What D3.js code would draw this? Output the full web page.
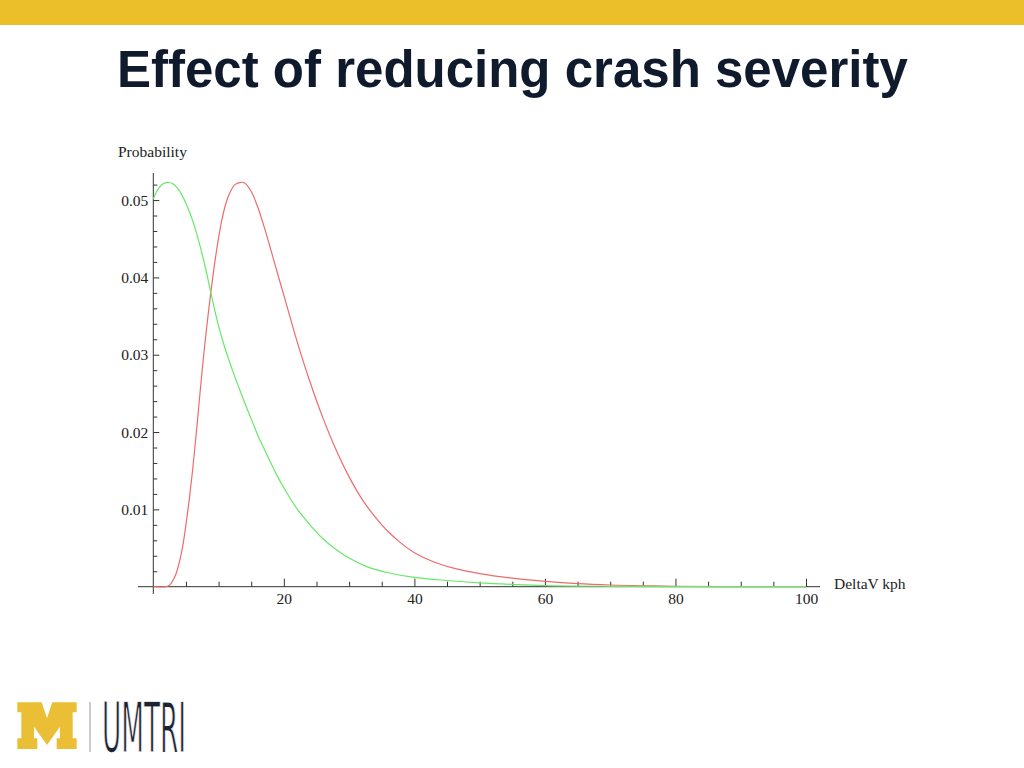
<!DOCTYPE html>
<html>
<head>
<meta charset="utf-8">
<script src="https://cdn.jsdelivr.net/npm/d3@7"></script>
<style>
  html, body { margin: 0; padding: 0; background: #ffffff; }
  svg { display: block; }
</style>
</head>
<body>
<svg id="chart" width="1024" height="768"></svg>
<script>
// ---- data ----
const titleText = "Effect of reducing crash severity";
const yAxisLabel = "Probability";
const xAxisLabel = "DeltaV kph";

// Red curve (original severity): DeltaV kph -> probability
const redX = [0, 2, 2.5, 3, 3.5, 4, 4.5, 5, 5.5, 6, 6.5, 7, 7.5, 8, 8.5, 9, 9.5, 10, 10.5, 11, 11.5, 12, 12.5, 13.4, 14, 15, 16, 17, 18, 19, 20, 22, 24, 26, 28, 30, 32, 34, 36, 38, 40, 43, 46, 50, 55, 60, 65, 70, 75, 80, 90, 100];
const redY = [0, 0, 0.0002, 0.0008, 0.0017, 0.0032, 0.0052, 0.0080, 0.0112, 0.0149, 0.0191, 0.0236, 0.0281, 0.0322, 0.0359, 0.0393, 0.0424, 0.0451, 0.0474, 0.0492, 0.0505, 0.0514, 0.0520, 0.0523, 0.0522, 0.0511, 0.0491, 0.0465, 0.0436, 0.0406, 0.0377, 0.0318, 0.0265, 0.0218, 0.0177, 0.0142, 0.0113, 0.0090, 0.0071, 0.0056, 0.0044, 0.0032, 0.0024, 0.0017, 0.0011, 0.0007, 0.0004, 0.00022, 0.00012, 0.00006, 0.00001, 0];

// Green curve (reduced severity)
const greenX = [0, 0.5, 1, 1.5, 2.1, 3, 4, 5, 6, 7, 8, 9, 10, 11, 12, 13, 14, 15, 16, 17, 18, 19, 20, 22, 24, 26, 28, 30, 33, 36, 40, 45, 50, 55, 60, 70, 80, 100];
const greenY = [0.0501, 0.0511, 0.0517, 0.0521, 0.0523, 0.0521, 0.0512, 0.0496, 0.0474, 0.0446, 0.0412, 0.0373, 0.0337, 0.0308, 0.0283, 0.0260, 0.0238, 0.0217, 0.0196, 0.0178, 0.0160, 0.0143, 0.0128, 0.0101, 0.0080, 0.0062, 0.0048, 0.0037, 0.0025, 0.0018, 0.0012, 0.0008, 0.0005, 0.0003, 0.00015, 0.00005, 0.00001, 0];

const xTicks = [20, 40, 60, 80, 100];
const xMinorTicks = [5, 10, 15, 25, 30, 35, 45, 50, 55, 65, 70, 75, 85, 90, 95];
const yTicks = [0.01, 0.02, 0.03, 0.04, 0.05];
const yMinorTicks = [0.002, 0.004, 0.006, 0.008, 0.012, 0.014, 0.016, 0.018, 0.022, 0.024, 0.026, 0.028, 0.032, 0.034, 0.036, 0.038, 0.042, 0.044, 0.046, 0.048, 0.052];

// ---- drawing ----
const svg = d3.select("#chart");

// top banner
svg.append("rect").attr("x", 0).attr("y", 0).attr("width", 1024).attr("height", 25).attr("fill", "#ebbf2a");

// title
svg.append("text")
  .attr("x", 117).attr("y", 87)
  .attr("font-family", "'Liberation Sans', Arial, sans-serif")
  .attr("font-weight", "bold")
  .attr("font-size", 51)
  .attr("fill", "#0f1a2c")
  .text(titleText);

const x = d3.scaleLinear().domain([0, 100]).range([153.3, 806]);
const y = d3.scaleLinear().domain([0, 0.0535]).range([586.7, 173]);

const axisColor = "#333";
const serif = "'Liberation Serif', 'Times New Roman', serif";
const labelSize = 15.5;

// y axis minor ticks
const gyMinor = svg.append("g").attr("transform", `translate(${x(0)},0)`)
  .call(d3.axisLeft(y).tickValues(yMinorTicks).tickSize(-4).tickFormat(""));
// y axis major ticks
const gy = svg.append("g").attr("transform", `translate(${x(0)},0)`)
  .call(d3.axisLeft(y).tickValues(yTicks).tickSize(-6).tickPadding(5).tickFormat(d3.format(".2f")));
[gyMinor, gy].forEach(g => {
  g.select(".domain").remove();
  g.selectAll("line").attr("stroke", axisColor);
});
gy.selectAll("text").attr("font-family", serif).attr("font-size", labelSize).attr("fill", "#222");

// x axis minor ticks
const gxMinor = svg.append("g").attr("transform", `translate(0,${y(0)})`)
  .call(d3.axisBottom(x).tickValues(xMinorTicks).tickSize(-5).tickFormat(""));
const gx = svg.append("g").attr("transform", `translate(0,${y(0)})`)
  .call(d3.axisBottom(x).tickValues(xTicks).tickSize(-8).tickPadding(6).tickFormat(d3.format("d")));
[gxMinor, gx].forEach(g => {
  g.select(".domain").remove();
  g.selectAll("line").attr("stroke", axisColor);
});
gx.selectAll("text").attr("font-family", serif).attr("font-size", labelSize).attr("fill", "#222");

// axis lines
svg.append("line").attr("x1", x(0)).attr("x2", x(0)).attr("y1", 173).attr("y2", 594)
  .attr("stroke", axisColor).attr("stroke-width", 1);
svg.append("line").attr("x1", 138).attr("x2", 820).attr("y1", y(0)).attr("y2", y(0))
  .attr("stroke", axisColor).attr("stroke-width", 1);

// axis labels
svg.append("text").attr("x", 118).attr("y", 157)
  .attr("font-family", serif).attr("font-size", labelSize).attr("fill", "#222").text(yAxisLabel);
svg.append("text").attr("x", 834).attr("y", 589)
  .attr("font-family", serif).attr("font-size", labelSize).attr("fill", "#222").text(xAxisLabel);

// curves
const line = d3.line().x(d => x(d[0])).y(d => y(Math.max(0, d[1]))).curve(d3.curveCatmullRom.alpha(0.5));
const redData = redX.map((v, i) => [v, redY[i]]);
const greenData = greenX.map((v, i) => [v, greenY[i]]);

svg.append("path").datum(redData).attr("d", line)
  .attr("fill", "none").attr("stroke", "#ee6b6b").attr("stroke-width", 1.2);
svg.append("path").datum(greenData).attr("d", line)
  .attr("fill", "none").attr("stroke", "#66e866").attr("stroke-width", 1.2);

// logo: block M
const mPts = [[22,22],[95,22],[111,70],[127,22],[200,22],[200,52],[188,52],[188,130],[200,130],[200,162],[140,162],[140,130],[150,130],[150,95],[111,150],[72,95],[72,130],[82,130],[82,162],[22,162],[22,130],[34,130],[34,52],[22,52]];
svg.append("path")
  .attr("d", "M" + mPts.map(p => [10 + p[0] / 3, 695 + p[1] / 3].join(",")).join("L") + "Z")
  .attr("fill", "#eabf35");
svg.append("line").attr("x1", 90).attr("x2", 90).attr("y1", 702).attr("y2", 752)
  .attr("stroke", "#9a9a9a").attr("stroke-width", 1);
svg.append("text").attr("x", 102).attr("y", 752)
  .attr("font-family", "'Liberation Sans Narrow', 'DejaVu Sans Condensed', sans-serif")
  .attr("font-size", 69)
  .attr("textLength", 84).attr("lengthAdjust", "spacingAndGlyphs")
  .attr("fill", "#1b2232")
  .attr("stroke", "#ffffff").attr("stroke-width", 1.2)
  .text("UMTRI");
</script>
</body>
</html>
